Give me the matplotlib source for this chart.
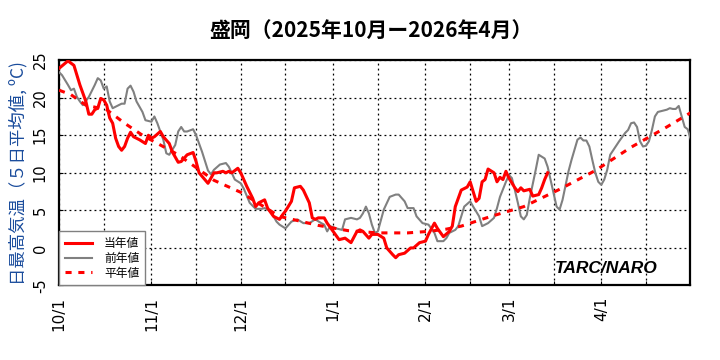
import numpy as np
import matplotlib
matplotlib.use('Agg')
import matplotlib.pyplot as plt

# days counted from 2025-10-01
start = np.datetime64('2025-10-01')

# 当年値 (current season, 5-day mean of daily max temp)
cur_day = [0, 3, 5, 7, 9, 10, 11, 12, 13, 14, 15, 16, 17, 18, 19, 20, 21, 22, 23, 24,
           25, 27, 29, 30, 31, 32, 34, 35, 37, 38, 40, 41, 43, 45, 46, 47, 50, 52, 53, 55,
           56, 57, 58, 60, 61, 63, 65, 66, 67, 69, 70, 72, 74, 75, 76, 78, 79, 81, 82, 84,
           85, 86, 87, 89, 90, 92, 94, 96, 98, 100, 101, 102, 104, 105, 107, 109, 110, 112, 113, 114,
           116, 118, 119, 121, 123, 124, 126, 127, 129, 131, 132, 133, 135, 137, 138, 139, 140, 141, 142, 143,
           144, 146, 147, 148, 149, 150, 151, 153, 154, 155, 156, 158, 159, 161, 162, 163, 164]
cur_val = [23.9, 24.9, 24.3, 21.7, 19.5, 17.8, 17.8, 18.4, 18.6, 19.9, 19.7, 19.0, 17.3, 16.6, 14.6, 13.5, 13.0, 13.5, 14.6, 15.4,
           14.8, 14.4, 13.9, 15.0, 14.6, 14.8, 15.5, 14.8, 13.9, 12.8, 11.4, 11.5, 12.4, 12.7, 11.5, 10.0, 8.6, 10.0, 10.0, 10.2,
           10.0, 10.2, 10.0, 10.6, 10.0, 8.2, 6.6, 5.5, 6.0, 6.4, 5.3, 4.2, 3.8, 4.4, 4.9, 6.2, 8.0, 8.2, 7.7, 6.0,
           4.0, 3.8, 4.0, 4.0, 3.3, 2.2, 1.1, 1.3, 0.7, 2.2, 2.4, 2.2, 1.3, 1.8, 1.8, 1.3, 0.0, -0.9, -1.3, -0.9,
           -0.7, 0.0, 0.0, 0.7, 0.9, 1.8, 3.3, 2.6, 1.5, 2.2, 2.9, 5.5, 7.7, 8.1, 8.8, 7.5, 6.2, 6.6, 8.8, 9.1,
           10.5, 10.0, 8.8, 9.4, 9.1, 10.2, 9.3, 8.0, 7.5, 8.0, 7.6, 7.8, 6.9, 7.1, 8.0, 9.1, 10.0]

# 前年値 (previous season)
prev_day = [0, 1, 3, 4, 5, 6, 7, 8, 10, 12, 13, 14, 15, 16, 17, 18, 19, 21, 22, 23,
            24, 25, 26, 28, 29, 31, 32, 33, 35, 36, 37, 39, 40, 41, 42, 43, 45, 46, 48, 50,
            51, 52, 54, 56, 57, 59, 61, 62, 64, 66, 68, 69, 71, 73, 74, 76, 78, 80, 82, 84,
            86, 88, 89, 90, 91, 93, 95, 96, 98, 100, 101, 102, 103, 104, 105, 106, 107, 109, 111, 113,
            114, 116, 117, 119, 120, 122, 124, 126, 127, 129, 130, 131, 133, 134, 135, 136, 138, 139, 141, 142,
            144, 146, 147, 148, 150, 151, 152, 153, 154, 155, 156, 157, 158, 160, 161, 163, 164, 166, 167, 168,
            169, 171, 172, 174, 175, 176, 177, 178, 179, 180, 181, 182, 183, 184, 185, 186, 188, 190, 191, 192,
            193, 194, 195, 196, 197, 198, 199, 200, 201, 203, 204, 205, 206, 207, 208, 209, 210, 211, 212]
prev_val = [23.4, 23.0, 21.7, 21.0, 21.2, 20.1, 19.5, 19.0, 20.1, 21.7, 22.6, 22.3, 21.2, 21.5, 19.5, 18.6, 18.8, 19.2, 19.2, 21.2,
            21.6, 20.8, 19.5, 18.1, 17.0, 16.8, 17.5, 16.6, 14.4, 12.6, 12.4, 13.7, 15.5, 16.1, 15.5, 15.5, 15.8, 15.0, 12.8, 10.3,
            9.8, 10.4, 11.1, 11.3, 10.8, 9.1, 8.6, 7.9, 6.0, 5.2, 5.2, 5.3, 4.9, 3.5, 3.1, 2.6, 3.5, 3.8, 3.3, 3.3,
            3.8, 3.3, 3.1, 2.2, 2.9, 2.6, 2.4, 3.8, 4.0, 3.8, 4.0, 4.6, 5.5, 4.6, 3.1, 2.0, 2.2, 5.1, 6.8, 7.1,
            7.1, 6.2, 5.3, 5.3, 4.2, 3.3, 3.1, 2.0, 0.9, 0.9, 1.3, 2.0, 2.4, 2.9, 4.2, 5.5, 6.2, 5.5, 4.2, 2.9,
            3.3, 4.0, 5.3, 6.8, 8.8, 9.7, 9.3, 7.7, 6.0, 4.2, 3.8, 4.4, 6.6, 10.4, 12.4, 11.9, 10.8, 7.3, 5.5, 5.1,
            6.4, 10.2, 11.7, 14.4, 14.7, 14.3, 14.3, 13.5, 11.7, 10.0, 8.8, 8.4, 9.1, 10.4, 12.4, 13.0, 14.2, 15.3, 15.7, 16.6,
            16.7, 16.1, 14.2, 13.5, 13.6, 14.2, 15.7, 17.5, 18.1, 18.3, 18.4, 18.6, 18.5, 18.5, 18.9, 17.5, 16.1, 15.8, 14.5]

# 平年値 (normal)
norm_day = [0, 4, 9, 16, 22, 28, 40, 52, 61, 74, 87, 97, 107, 117, 124, 130, 135, 145, 156, 168, 180, 192, 204, 212]
norm_val = [21.0, 20.4, 19.0, 18.4, 16.6, 15.0, 12.4, 9.0, 7.4, 4.2, 3.0, 2.3, 2.0, 2.0, 2.2, 2.5, 2.9, 4.2, 5.5, 7.8, 10.3, 13.4, 16.1, 18.0]

xtick_labels = ['10/1', '11/1', '12/1', '1/1', '2/1', '3/1', '4/1']
yticks = [-5, 0, 5, 10, 15, 20, 25]

jp = ['Noto Sans CJK JP', 'DejaVu Sans']

fig = plt.figure(figsize=(7.2, 3.6), dpi=100)
ax = fig.add_axes([0.082, 0.207, 0.876, 0.626])

ax.plot(cur_day, cur_val, color='#ff0000', lw=2.2, label='当年値', zorder=4)
ax.plot(prev_day, prev_val, color='#808080', lw=1.5, label='前年値', zorder=3)
ax.plot(norm_day, norm_val, color='#ff0000', lw=2.2, ls=(0, (2, 2.2)), label='平年値', zorder=3)

# month ticks (1st) and mid-month grid (16th)
months = np.arange(np.datetime64('2025-10'), np.datetime64('2026-05'), dtype='datetime64[M]')
month_pos = (months.astype('datetime64[D]') - start).astype(int)
ax.set_xticks(month_pos)
ax.set_xticklabels(xtick_labels, rotation=90, fontsize=11)
ax.set_xticks(month_pos + 15, minor=True)
ax.set_xlim(0, 211.7)
ax.set_ylim(-5, 25)
ax.set_yticks(yticks)
ax.set_yticklabels([str(v) for v in yticks], rotation=90, va='center', fontsize=10.5)
ax.tick_params(axis='both', which='both', direction='in', length=3, width=0.8)
ax.tick_params(axis='x', pad=8)
ax.tick_params(axis='y', pad=8)
ax.grid(True, which='both', color='black', ls=(0, (1.5, 2.5)), lw=0.9)
for s in ax.spines.values():
    s.set_linewidth(1.6)

ax.set_ylabel('日最高気温（５日平均値, ºC)', family=jp, fontsize=12.5, color='#1a4c9c', labelpad=4)
fig.text(0.515, 0.915, '盛岡（2025年10月ー2026年4月）', family=jp, fontsize=15,
         fontweight='bold', ha='center', va='center')

ax.text(0.786, 0.075, 'TARC/NARO', transform=ax.transAxes, family='Liberation Sans',
        fontsize=12.5, fontweight='bold', style='italic', va='center')

leg = ax.legend(loc='lower left', borderaxespad=0, prop={'family': jp, 'size': 8.5},
                fancybox=False, framealpha=1, edgecolor='#808080', handlelength=2.3,
                labelspacing=0.15, borderpad=0.5, handletextpad=1.0)
leg.get_frame().set_linewidth(1.0)

fig.savefig('out.png', dpi=100)
